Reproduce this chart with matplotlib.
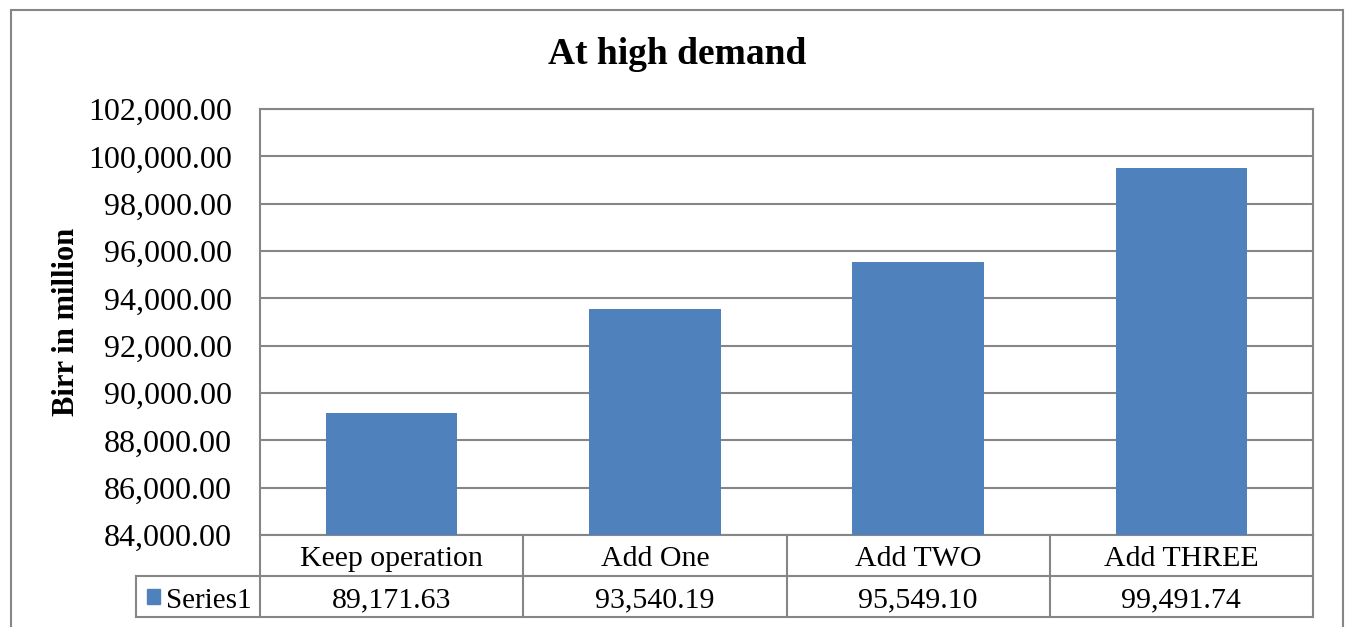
import matplotlib.pyplot as plt
from matplotlib.patches import Rectangle
from matplotlib.transforms import blended_transform_factory

plt.rcParams['font.family'] = ['Liberation Serif', 'DejaVu Serif']

categories = ['Keep operation', 'Add One', 'Add TWO', 'Add THREE']
values = [89171.63, 93540.19, 95549.10, 99491.74]
series_name = 'Series1'
y_ticks = list(range(84000, 102001, 2000))

bar_color = '#4F81BD'
line_color = '#868686'

W, H = 1348, 627
fig = plt.figure(figsize=(W / 100, H / 100), dpi=100)

# outer chart frame
fig.patches.append(Rectangle((11 / W, -0.01), (1343 - 11) / W, 1 - 10 / H + 0.01,
                             transform=fig.transFigure, fill=False,
                             edgecolor=line_color, linewidth=1.5))

ax = fig.add_axes([260 / W, 1 - 535 / H, (1313 - 260) / W, (535 - 109) / H])
x = range(len(categories))
ax.bar(x, values, width=0.5, color=bar_color, zorder=3)

ax.set_xlim(-0.5, len(categories) - 0.5)
ax.set_ylim(y_ticks[0], y_ticks[-1])
ax.set_yticks(y_ticks)
ax.set_yticklabels([f'{v:,.2f}' for v in y_ticks], fontsize=23)
ax.tick_params(axis='y', length=0, pad=20)
ax.set_xticks([])
ax.grid(axis='y', color=line_color, linewidth=1.5, zorder=0)
for s in ax.spines.values():
    s.set_color(line_color)
    s.set_linewidth(1.5)

ax.set_ylabel('Birr in million', fontsize=22, fontweight='bold', labelpad=5)
fig.text(677 / W, 1 - 55 / H, 'At high demand', ha='center', va='center',
         fontsize=27, fontweight='bold')

# data table under the axis
tr = blended_transform_factory(ax.transData, ax.transAxes)
row_h = 41 / (535 - 109)
n = len(categories)
lab_left = -0.5 - 124 / 263.25
kw = dict(transform=tr, color=line_color, linewidth=1.5, clip_on=False)
ax.plot([-0.5, n - 0.5], [-row_h, -row_h], **kw)
ax.plot([lab_left, n - 0.5], [-2 * row_h, -2 * row_h], **kw)
ax.plot([lab_left, lab_left], [-row_h, -2 * row_h], **kw)
ax.plot([lab_left, -0.5], [-row_h, -row_h], **kw)
for i in range(n + 1):
    ax.plot([i - 0.5, i - 0.5], [0, -2 * row_h], **kw)
dy = 4 / (535 - 109)
for i, (c, v) in enumerate(zip(categories, values)):
    ax.text(i, -row_h / 2 - dy, c, transform=tr, ha='center', va='center', fontsize=21.5)
    ax.text(i, -1.5 * row_h - dy, f'{v:,.2f}', transform=tr, ha='center', va='center',
            fontsize=21.5)
ax.add_patch(Rectangle((lab_left + 0.04, -1.5 * row_h - 0.017), 0.05, 0.034,
                       transform=tr, color=bar_color, clip_on=False))
ax.text(lab_left + 0.115, -1.5 * row_h - dy, series_name, transform=tr,
        ha='left', va='center', fontsize=21)

fig.savefig('out.png', dpi=100)
